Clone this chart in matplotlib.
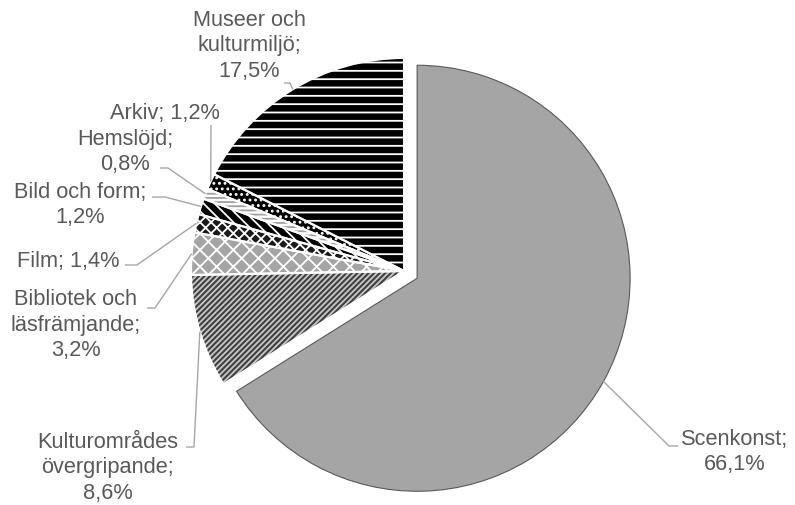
import numpy as np
import matplotlib
matplotlib.use("Agg")
import matplotlib.pyplot as plt

plt.rcParams['font.family'] = ['Liberation Sans', 'DejaVu Sans']
plt.rcParams['hatch.linewidth'] = 1.3

# data (share of total, %), clockwise from 12 o'clock
categories = ['Scenkonst', 'Kulturområdes\növergripande', 'Bibliotek och\nläsfrämjande',
              'Film', 'Bild och form', 'Hemslöjd', 'Arkiv', 'Museer och\nkulturmiljö']
values = [66.1, 8.6, 3.2, 1.4, 1.2, 0.8, 1.2, 17.5]
value_labels = ['66,1%', '8,6%', '3,2%', '1,4%', '1,2%', '0,8%', '1,2%', '17,5%']

# styling per slice
faces = ['#a5a5a5', '#404040', '#a5a5a5', '#1a1a1a', '#000000', '#ffffff', '#000000', '#000000']
hatch_col = ['#a5a5a5', '#c8c8c8', '#ffffff', '#ffffff', '#ffffff', '#a0a0a0', '#ffffff', '#ffffff']
hatches = [None, '//////', 'xx', 'xxx', '\\\\\\', '----', '...', '--']
explode = [15, 0, 0, 0, 0, 0, 0, 0]  # pixels

W, H = 795, 505
fig = plt.figure(figsize=(W / 100, H / 100), dpi=100)
ax = fig.add_axes([0, 0, 1, 1])

cx, cy, R = 404, H - 271, 213
wedges, _ = ax.pie(values, colors=faces, startangle=90, counterclock=False,
                   explode=explode, center=(cx, cy), radius=R,
                   wedgeprops=dict(linewidth=0))
for w, h, hc in zip(wedges, hatches, hatch_col):
    w.set_edgecolor(hc)
    if h:
        w.set_hatch(h)
# outlines
outl, _ = ax.pie(values, startangle=90, counterclock=False, explode=explode,
                 center=(cx, cy), radius=R,
                 wedgeprops=dict(fill=False, edgecolor='white', linewidth=1.5))
outl[0].set_edgecolor('#595959')
outl[0].set_linewidth(0.8)

# label layout in image pixels: text centre, leader elbow, leader end
layout = [
    ((735, 452), (669, 446), (678, 446)),
    ((108, 468), (194, 447), (186, 447)),
    ((76, 325), (155, 308), (147, 308)),
    ((68, 262), (137, 265), (125, 265)),
    ((80, 205), (165, 197), (152, 197)),
    ((125, 152), (168, 168), (160, 168)),
    ((165, 113), (211, 125), (211, 125)),
    ((249, 46), (290, 83), (284, 83)),
]

for w, cat, val, (tpos, elbow, end) in zip(wedges, categories, value_labels, layout):
    ang = np.deg2rad((w.theta1 + w.theta2) / 2)
    x0 = w.center[0] + w.r * np.cos(ang)
    y0 = w.center[1] + w.r * np.sin(ang)
    ax.plot([x0, elbow[0], end[0]], [y0, H - elbow[1], H - end[1]],
            color='#a6a6a6', lw=1, solid_capstyle='butt', zorder=1)
    ax.text(tpos[0], H - tpos[1], cat + ';' + ('\n' if len(cat) > 6 else ' ') + val,
            ha='center', va='center', fontsize=15.7, color='#595959',
            linespacing=1.3)

ax.set_xlim(0, W)
ax.set_ylim(0, H)
ax.set_aspect('equal')
ax.axis('off')
fig.savefig('out.png', dpi=100)
